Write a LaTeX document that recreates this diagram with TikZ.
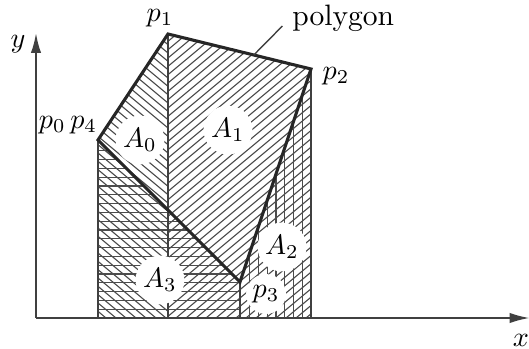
\documentclass[tikz,border=0pt]{standalone}
\usepackage{amsmath}
\usetikzlibrary{calc,arrows.meta}

\tikzset{
  hatch/.style={line width=0.4pt, black!70},
  edge/.style={line width=1.1pt, black!85},
  side/.style={line width=0.5pt, black!75},
  axis/.style={line width=0.7pt, black!75, -{Latex[length=2.5mm, width=1.3mm]}},
  halo/.style={circle, fill=white, inner sep=1pt},
}

\begin{document}
\begin{tikzpicture}
  \useasboundingbox (-0.45,-0.3875) rectangle (6.1625,3.975);
  % Vertices
  \coordinate (O) at (0,0);
  \coordinate (p0) at (0.775,2.225);
  \coordinate (p1) at (1.65,3.55);
  \coordinate (p2) at (3.4375,3.1125);
  \coordinate (p3) at (2.55,0.45);
  \coordinate (xend) at (6.17,0);
  \coordinate (yend) at (0,3.5625);

  % A0 (north west lines)
  \begin{scope}
    \clip (p0) -- (p1) -- (p1 |- O) -- (p0 |- O) -- cycle;
    \foreach \c in {0,0.125,...,7} \draw[hatch] (\c,0) -- ++(-4.8,4);
  \end{scope}
  % A1 (north east lines)
  \begin{scope}
    \clip (p1) -- (p2) -- (p2 |- O) -- (p1 |- O) -- cycle;
    \foreach \c in {-3,-2.875,...,3.5} \draw[hatch] (\c,0) -- ++(4.8,4);
  \end{scope}
  % A2 (vertical lines)
  \begin{scope}
    \clip (p3) -- (p2) -- (p2 |- O) -- (p3 |- O) -- cycle;
    \foreach \c in {2.67,2.78,...,3.4} \draw[hatch] (\c,0) -- (\c,4);
  \end{scope}
  % A3 (horizontal lines)
  \begin{scope}
    \clip (p0) -- (p3) -- (p3 |- O) -- (p0 |- O) -- cycle;
    \foreach \c in {0.11,0.22,...,2.3} \draw[hatch] (0,\c) -- (4,\c);
  \end{scope}

  % Trapezoid sides
  \draw[side] (p0) -- (p0 |- O);
  \draw[side] (p1) -- (p1 |- O);
  \draw[side] (p3) -- (p3 |- O);
  \draw[side] (p2) -- (p2 |- O);

  % Axes
  \draw[axis] (O) -- (xend);
  \draw[axis] (O) -- (yend);
  \node (lx) at (6.06,-0.28) {$x$};
  \node (ly) at (-0.225,3.425) {$y$};

  % Polygon
  \draw[edge] (p0) -- (p1) -- (p2) -- (p3) -- cycle;
  \node (poly) [anchor=base west, font=\fontsize{10.5}{12}\selectfont] at (3.08,3.65) {polygon};
  \draw[side] (poly.base west) -- ($(p1)!0.6!(p2)$);

  % Vertex labels
  \node (lp04) at (0.4,2.41) {$p_0\,p_4$};
  \node (lp1) at (1.55,3.75) {$p_1$};
  \node (lp2) at (3.75,3.025) {$p_2$};
  \node[halo] (lp3) at (2.875,0.3) {$p_3$};

  % Areas
  \node[halo] (a0) at (1.3,2.225) {$A_0$};
  \node[halo] (a1) at (2.4,2.35) {$A_1$};
  \node[halo] (a2) at (3.075,0.8875) {$A_2$};
  \node[halo] (a3) at (1.55,0.475) {$A_3$};
\end{tikzpicture}
\end{document}
